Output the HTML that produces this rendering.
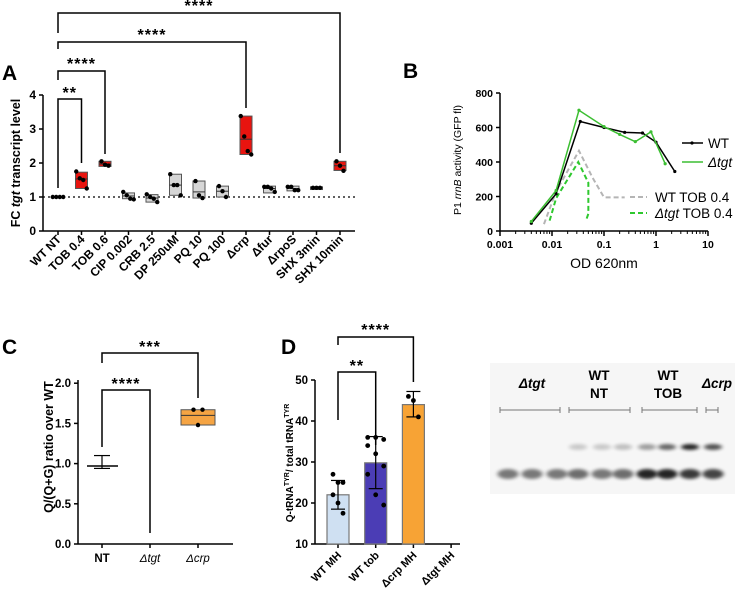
<!DOCTYPE html>
<html><head><meta charset="utf-8"><style>
body{margin:0;background:#fff}
svg{display:block;font-family:"Liberation Sans",Arial,sans-serif}
text{font-weight:bold}
</style></head><body>
<svg id="s" width="735" height="597" viewBox="0 0 735 597">
<g id="A"></g>
<g id="B"></g>
<g id="C"></g>
<g id="D"></g>
<g id="G"></g>
</svg>
<script>
// ---- Panel A data
const aCats=["WT NT","TOB 0.4","TOB 0.6","CIP 0.002","CRB 2.5","DP 250uM","PQ 10","PQ 100","Δcrp","Δfur","ΔrpoS","SHX 3min","SHX 10min"];
const aLow=[1,1.25,1.9,0.95,0.85,1.05,0.97,1.0,2.25,1.12,1.18,1.22,1.78];
const aHigh=[1,1.73,2.05,1.12,1.07,1.67,1.47,1.32,3.38,1.32,1.32,1.3,2.05];
const aMed=[1,1.53,1.97,1.03,0.97,1.35,1.15,1.17,2.7,1.25,1.25,1.27,1.92];
const aPts=[[1,1,1,1],[1.75,1.55,1.5,1.25],[2.05,1.95,1.92],[1.15,1.05,0.95,0.93],[1.08,1.0,0.95,0.85],[1.67,1.35,1.35,1.05],[1.47,1.05,0.97],[1.32,1.17,1.0],[3.38,2.78,2.35,2.25],[1.3,1.3,1.25,1.15],[1.3,1.3,1.2,1.2],[1.27,1.27,1.27],[2.05,1.92,1.77]];
const aRed=[0,1,1,0,0,0,0,0,1,0,0,0,1];
const aTicks=[0,1,2,3,4];
// ---- Panel B data
const bTicksX=[0.001,0.01,0.1,1,10];
const bTicksY=[0,200,400,600,800];
const bWTx=[0.004,0.012,0.035,0.1,0.25,0.55,1.0,2.3];
const bWTy=[45,215,635,600,572,568,515,345];
const bTgtx=[0.004,0.012,0.033,0.1,0.2,0.4,0.8,1.5];
const bTgty=[55,235,700,605,560,518,575,390];
const bWTtobx=[0.007,0.012,0.033,0.06,0.1,0.25];
const bWTtoby=[40,230,465,310,195,195];
const bTgttobx=[0.009,0.012,0.032,0.05,0.05,0.045];
const bTgttoby=[60,190,400,280,100,60];
// ---- Panel C data
const cCats=["NT","Δtgt","Δcrp"];
const cTicks=[0,0.5,1.0,1.5,2.0];
const cNT=[0.94,0.97,1.1];
const cCrpBox=[1.48,1.6,1.67];
const cCrpPts=[1.67,1.67,1.48];
// ---- Panel D data
const dCats=["WT MH","WT tob","Δcrp MH","Δtgt MH"];
const dMeans=[22,29.8,44];
const dErrLo=[18.5,23.5,41];
const dErrHi=[25.5,36.2,47.2];
const dPts=[[27,25,25,22,20,17.5],[36,36,35.5,34,32,29,27,22,19.5],[46,45,41]];
const dColors=["#cfe0f2","#4b3db5","#f7a335"];
const dTicks=[10,20,30,40,50];

const NS="http://www.w3.org/2000/svg";
function mk(p,t,a,txt){const e=document.createElementNS(NS,t);for(const k in a)e.setAttribute(k,a[k]);if(txt!==undefined)e.textContent=txt;p.appendChild(e);return e;}
function line(p,x1,y1,x2,y2,st,w,da){const e=mk(p,"line",{x1,y1,x2,y2,stroke:st||"#000","stroke-width":w||1.5});if(da)e.setAttribute("stroke-dasharray",da);return e;}
function bracket(p,x1,x2,y,l1,l2,stars,sy){const g=mk(p,"g",{});
 mk(g,"polyline",{points:`${x1},${l1} ${x1},${y} ${x2},${y} ${x2},${l2}`,fill:"none",stroke:"#000","stroke-width":1.5});
 mk(g,"text",{x:(x1+x2)/2,y:sy+3,"text-anchor":"middle","font-size":16,"letter-spacing":"1"},stars);}

// ===== Panel A
(function(){const P=document.getElementById("A");
 const x0=43,xEnd=355,cx=i=>58+i*23.5,y=v=>231-v*34;
 mk(P,"text",{x:2,y:80,"font-size":21},"A");
 line(P,x0,95,x0,231);line(P,x0,231,xEnd,231);
 aTicks.forEach(v=>{line(P,x0-4,y(v),x0,y(v));const t=mk(P,"text",{x:x0-7,y:y(v)+4,"text-anchor":"end","font-size":12},v);});
 line(P,x0,y(1),xEnd,y(1),"#000",1.2,"2,3");
 const yt=mk(P,"text",{transform:"translate(20,163) rotate(-90)","text-anchor":"middle","font-size":12.5});
 yt.innerHTML='FC <tspan font-style="italic">tgt</tspan> transcript level';
 aCats.forEach((c,i)=>{const X=cx(i);line(P,X,231,X,235);
  const t=mk(P,"text",{transform:`translate(${X+4},${240}) rotate(-45)`,"text-anchor":"end","font-size":12},c);
  if(i>0){const r=mk(P,"rect",{x:X-6,y:y(aHigh[i]),width:12,height:Math.max(1,y(aLow[i])-y(aHigh[i])),fill:aRed[i]?"#e8140f":"#d6d6d6",stroke:"#555","stroke-width":1});
   line(P,X-6,y(aMed[i]),X+6,y(aMed[i]),"#333",1);}
  const pts=aPts[i];pts.forEach((v,j)=>{const off=pts.length===1?0:(j-(pts.length-1)/2)*3.5;const d=mk(P,"circle",{cx:X+off,cy:y(v),r:2.2,fill:"#000"});});
 });
 bracket(P,cx(0),cx(12),13,33,153,"****",8);
 bracket(P,cx(0),cx(8),42,49,108,"****",37);
 bracket(P,cx(0),cx(2),71,80,154,"****",66);
 bracket(P,cx(0),cx(1),99,188,163,"**",95);
})();

// ===== Panel B
(function(){const P=document.getElementById("B");
 const x=v=>500+(Math.log10(v)+3)*52,y=v=>231-v*138/800;
 mk(P,"text",{x:403,y:78,"font-size":21},"B");
 line(P,500,93,500,231);line(P,500,231,708,231);
 bTicksY.forEach(v=>{line(P,496,y(v),500,y(v));const t=mk(P,"text",{x:493,y:y(v)+4,"text-anchor":"end","font-size":10.5},v);});
 bTicksX.forEach((v,k)=>{line(P,x(v),231,x(v),236);const t=mk(P,"text",{x:x(v),y:248,"text-anchor":"middle","font-size":10.5},v);
  if(k<4)for(let m=2;m<10;m++)line(P,x(v*m),231,x(v*m),234,"#000",1);});
 const xt=mk(P,"text",{x:604,y:268,"text-anchor":"middle","font-size":14},"OD 620nm");xt.style.fontWeight="normal";
 const yt=mk(P,"text",{transform:"translate(461,160) rotate(-90)","text-anchor":"middle","font-size":10.5});yt.style.fontWeight="normal";
 yt.innerHTML='P1 <tspan font-style="italic">rrnB</tspan> activity (GFP fl)';
 function ser(xs,ys,col,da,w,name,dots){const pl=mk(P,"polyline",{points:xs.map((v,i)=>x(v)+","+y(ys[i])).join(" "),fill:"none",stroke:col,"stroke-width":w});if(da)pl.setAttribute("stroke-dasharray",da);
  if(dots)xs.forEach((v,i)=>mk(P,"circle",{cx:x(v),cy:y(ys[i]),r:1.6,fill:col}));}
 ser(bWTtobx,bWTtoby,"#b5b5b5","5,3",2,"series-wt-tob",false);
 ser(bTgttobx,bTgttoby,"#2ec82e","5,3",2,"series-tgt-tob",false);
 ser(bWTx,bWTy,"#000",null,1.5,"series-wt",true);
 ser(bTgtx,bTgty,"#3cbe32",null,1.5,"series-tgt",true);
 const lg=mk(P,"g",{});
 line(lg,682,143,703,143,"#000",1.5);mk(lg,"circle",{cx:692,cy:143,r:1.6});
 mk(lg,"text",{x:708,y:148,"font-size":13.5,style:"font-weight:normal"},"WT");
 line(lg,682,162,703,162,"#3cbe32",1.5);
 mk(lg,"text",{x:708,y:167,"font-size":13.5,"font-style":"italic",style:"font-weight:normal"},"Δtgt");
 line(lg,630,197,647,197,"#b5b5b5",2,"5,3");
 mk(lg,"text",{x:655,y:202,"font-size":13.5,style:"font-weight:normal"},"WT TOB 0.4");
 line(lg,630,213,647,213,"#2ec82e",2,"5,3");
 const t=mk(lg,"text",{x:655,y:218,"font-size":13.5,style:"font-weight:normal"});t.innerHTML='<tspan font-style="italic">Δtgt</tspan> TOB 0.4';
})();

// ===== Panel C
(function(){const P=document.getElementById("C");
 const cx=i=>102+i*48,y=v=>544-v*80.4;
 mk(P,"text",{x:2,y:354,"font-size":21},"C");
 line(P,78,380,78,544);line(P,78,544,233,544);
 cTicks.forEach(v=>{line(P,74,y(v),78,y(v));const t=mk(P,"text",{x:71,y:y(v)+4,"text-anchor":"end","font-size":11.5},v.toFixed(1));});
 const yt=mk(P,"text",{transform:"translate(53,447) rotate(-90)","text-anchor":"middle","font-size":12.5},"Q/(Q+G) ratio over WT");
 cCats.forEach((c,i)=>{line(P,cx(i),544,cx(i),548);const t=mk(P,"text",{x:cx(i),y:562,"text-anchor":"middle","font-size":11.5},c);if(i>0){t.setAttribute("font-style","italic");t.style.fontWeight="normal";}});
 line(P,cx(0)-15,y(cNT[1]),cx(0)+16,y(cNT[1]),"#000",1.5);
 line(P,cx(0),y(cNT[0]),cx(0),y(cNT[2]),"#000",1.2);
 line(P,cx(0)-8,y(cNT[2]),cx(0)+8,y(cNT[2]),"#000",1.2);
 line(P,cx(0)-8,y(cNT[0]),cx(0)+8,y(cNT[0]),"#000",1.2);
 const r=mk(P,"rect",{x:cx(2)-17,y:y(cCrpBox[2]),width:34,height:y(cCrpBox[0])-y(cCrpBox[2]),fill:"#f5a443",stroke:"#555","stroke-width":1});
 line(P,cx(2)-17,y(cCrpBox[1]),cx(2)+17,y(cCrpBox[1]),"#333",1);
 cCrpPts.forEach((v,j)=>mk(P,"circle",{cx:cx(2)+(j===2?0:(j-0.5)*9),cy:y(v),r:2.2,fill:"#000"}));
 bracket(P,cx(0),cx(1),390,447,533,"****",386);
 bracket(P,cx(0),cx(2),353,363,398,"***",349);
})();

// ===== Panel D
(function(){const P=document.getElementById("D");
 const cx=i=>338+i*37.7,y=v=>544-(v-10)*4.1;
 mk(P,"text",{x:281,y:354,"font-size":21},"D");
 line(P,315,380,315,544);line(P,315,544,460,544);
 dTicks.forEach(v=>{line(P,311,y(v),315,y(v));const t=mk(P,"text",{x:308,y:y(v)+4,"text-anchor":"end","font-size":11.5},v);});
 const yt=mk(P,"text",{transform:"translate(293,463) rotate(-90)","text-anchor":"middle","font-size":10});
 yt.innerHTML='Q-tRNA<tspan dy="-4" font-size="7">TYR</tspan><tspan dy="4">/ total tRNA</tspan><tspan dy="-4" font-size="7">TYR</tspan>';
 dCats.forEach((c,i)=>{line(P,cx(i),544,cx(i),548);const t=mk(P,"text",{transform:`translate(${cx(i)+4},556) rotate(-45)`,"text-anchor":"end","font-size":11},c);});
 dMeans.forEach((m,i)=>{const X=cx(i);const r=mk(P,"rect",{x:X-11,y:y(m),width:22,height:544-y(m),fill:dColors[i],stroke:"#777","stroke-width":1.2});
  line(P,X,y(dErrLo[i]),X,y(dErrHi[i]),"#000",1.2);line(P,X-7,y(dErrLo[i]),X+7,y(dErrLo[i]),"#000",1.2);line(P,X-7,y(dErrHi[i]),X+7,y(dErrHi[i]),"#000",1.2);
  const pts=dPts[i];pts.forEach((v,j)=>{const off=((j%3)-1)*(i===1?8:5);mk(P,"circle",{cx:X+off,cy:y(v),r:2.4,fill:"#000"});});
 });
 bracket(P,cx(0),cx(1),372,420,445,"**",368);
 bracket(P,cx(0),cx(2),337,345,382,"****",332);
})();

// ===== Gel
(function(){const P=document.getElementById("G");
 const defs=mk(P,"defs",{});const f=mk(defs,"filter",{id:"bl",x:"-50%",y:"-100%",width:"200%",height:"300%"});mk(f,"feGaussianBlur",{stdDeviation:"2.2 1.6"});
 mk(P,"rect",{x:490,y:363,width:245,height:131,fill:"#f6f6f6"});
 const lanes=[508,532,557,578,602,623,647,667,690,713];
 const lo=[0.6,0.6,0.6,0.65,0.6,0.65,1,1,0.9,0.85];
 const hi=[0,0,0,0.2,0.2,0.25,0.4,0.65,0.95,0.75];
 lanes.forEach((x,i)=>{mk(P,"ellipse",{cx:x,cy:474,rx:10.5,ry:5,fill:"#000",opacity:lo[i]*0.85,filter:"url(#bl)"});
  if(hi[i])mk(P,"ellipse",{cx:x,cy:447,rx:9,ry:3,fill:"#000",opacity:hi[i]*0.9,filter:"url(#bl)"});});
 function lab(x,y,t,it){const e=mk(P,"text",{x,y,"text-anchor":"middle","font-size":13.5},t);if(it)e.setAttribute("font-style","italic");}
 lab(532,388,"Δtgt",1);lab(599,380,"WT");lab(599,398,"NT");lab(668,380,"WT");lab(668,398,"TOB");lab(717,388,"Δcrp",1);
 [[500,560],[569,630],[642,697],[706,718]].forEach(s=>{line(P,s[0],410,s[1],410,"#777",1);line(P,s[0],407,s[0],413,"#777",1);line(P,s[1],407,s[1],413,"#777",1);});
})();
</script>
</body></html>
